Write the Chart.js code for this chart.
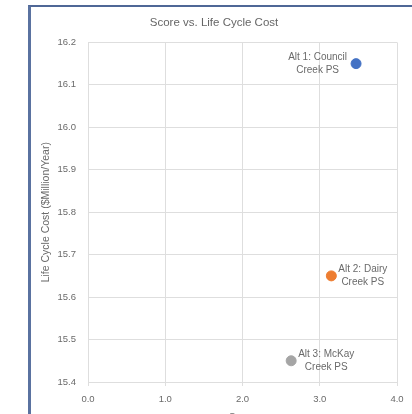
<!DOCTYPE html>
<html>
<head>
<meta charset="utf-8">
<script src="https://cdn.jsdelivr.net/npm/chart.js@4/dist/chart.umd.min.js"></script>
<style>
  html, body { margin: 0; padding: 0; background: #fff; overflow: hidden; }
  #frame {
    position: absolute; left: 28px; top: 5px;
    width: 381px; height: 420px;
    border-left: 3px solid #5a72a0;
    border-top: 2px solid #4f6796;
  }
  canvas { display: block; }
</style>
</head>
<body>
<div id="frame"><canvas id="chart" width="381" height="420"></canvas></div>
<script>
// data
const altLabels = [["Alt 1: Council", "Creek PS"], ["Alt 2: Dairy", "Creek PS"], ["Alt 3: McKay", "Creek PS"]]
const scores = [3.47, 3.15, 2.63]
const costs = [16.15, 15.65, 15.45]
const xTicks = [0, 1, 2, 3, 4]
const yTicks = [15.4, 15.5, 15.6, 15.7, 15.8, 15.9, 16.0, 16.1, 16.2]

const colors = ["#4472C4", "#ED7D31", "#A5A5A5"]
const labelSide = ["left", "right", "right"]
const textColor = "#6a6a6a"
const gridColor = "#dedede"
const font = "'Liberation Sans', Arial, sans-serif"

// labels next to each point
const pointLabels = {
    id: "pointLabels",
    afterDatasetsDraw(chart) {
        const ctx = chart.ctx
        ctx.save()
        ctx.font = "10px " + font
        ctx.fillStyle = textColor
        ctx.textAlign = "center"
        ctx.textBaseline = "middle"
        chart.data.datasets.forEach((ds, i) => {
            const pt = chart.getDatasetMeta(i).data[0]
            const lines = altLabels[i]
            const w = Math.max(...lines.map(l => ctx.measureText(l).width))
            const gap = labelSide[i] == "left" ? 9 : 7
            const cx = labelSide[i] == "left" ? pt.x - gap - w / 2 : pt.x + gap + w / 2
            const lh = 13.5
            lines.forEach((l, k) => {
                ctx.fillText(l, cx, pt.y + (k - (lines.length - 1) / 2) * lh)
            })
        })
        ctx.restore()
    }
}

new Chart(document.getElementById("chart"), {
    type: "scatter",
    data: {
        datasets: altLabels.map((l, i) => ({
            label: l.join(" "),
            data: [{ x: scores[i], y: costs[i] }],
            backgroundColor: colors[i],
            borderColor: colors[i],
            pointRadius: 5,
            pointHoverRadius: 5
        }))
    },
    options: {
        responsive: false,
        animation: false,
        layout: { padding: { left: 0, right: 15, top: 0, bottom: 0 } },
        plugins: {
            legend: { display: false },
            tooltip: { enabled: false },
            title: {
                display: true,
                text: "Score vs. Life Cycle Cost",
                color: "#666",
                font: { family: font, size: 11.5, weight: "normal" },
                padding: { top: 8.8, bottom: 12.8 }
            }
        },
        scales: {
            x: {
                min: 0, max: 4,
                afterFit: s => { s.height = 45 },
                afterBuildTicks: s => { s.ticks = xTicks.map(v => ({ value: v })) },
                grid: { color: gridColor, tickLength: 4 },
                border: { color: gridColor },
                ticks: {
                    color: textColor, padding: 8,
                    font: { family: font, size: 9.5 },
                    callback: v => v.toFixed(1)
                },
                title: {
                    display: true, text: "Score", color: textColor,
                    font: { family: font, size: 10.5 },
                    padding: { top: 0, bottom: 2.5 }
                }
            },
            y: {
                min: 15.4, max: 16.2,
                afterFit: s => { s.width = 57 },
                afterBuildTicks: s => { s.ticks = yTicks.map(v => ({ value: v })) },
                grid: { color: gridColor, drawTicks: false },
                border: { color: gridColor },
                ticks: {
                    color: textColor, padding: 12,
                    font: { family: font, size: 9.5 },
                    callback: v => v.toFixed(1)
                },
                title: {
                    display: true, text: "Life Cycle Cost ($Million/Year)", color: textColor,
                    font: { family: font, size: 10.5 },
                    padding: { top: 8.7, bottom: 0 }
                }
            }
        }
    },
    plugins: [pointLabels]
})
</script>
</body>
</html>
